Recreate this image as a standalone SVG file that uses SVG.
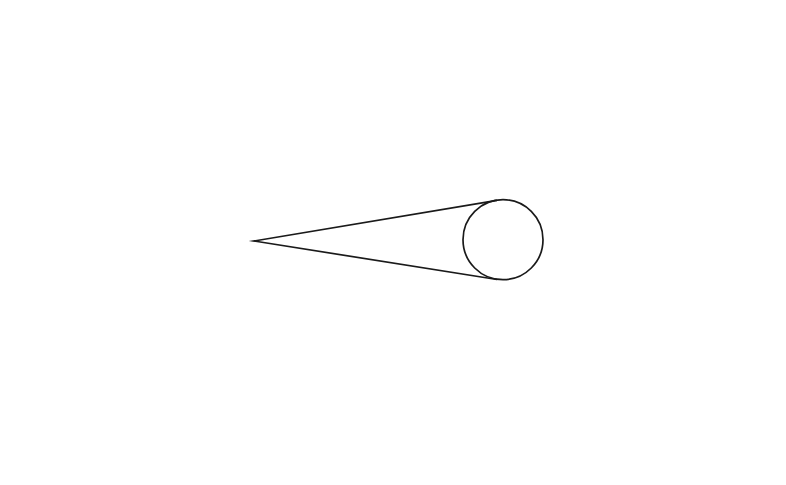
<svg xmlns="http://www.w3.org/2000/svg" width="786" height="485" viewBox="0 0 786 485">
<style>.s{fill:none;stroke:#1a1a1a;stroke-width:1.7;stroke-linejoin:miter;stroke-miterlimit:20}</style>
<rect width="786" height="485" fill="#fff"/>
<g id="cone">
<path class="s" d="M497,200.3 L254,241 L497,279.5"/>
<circle class="s" cx="503" cy="239.7" r="40"/>
</g>
</svg>
